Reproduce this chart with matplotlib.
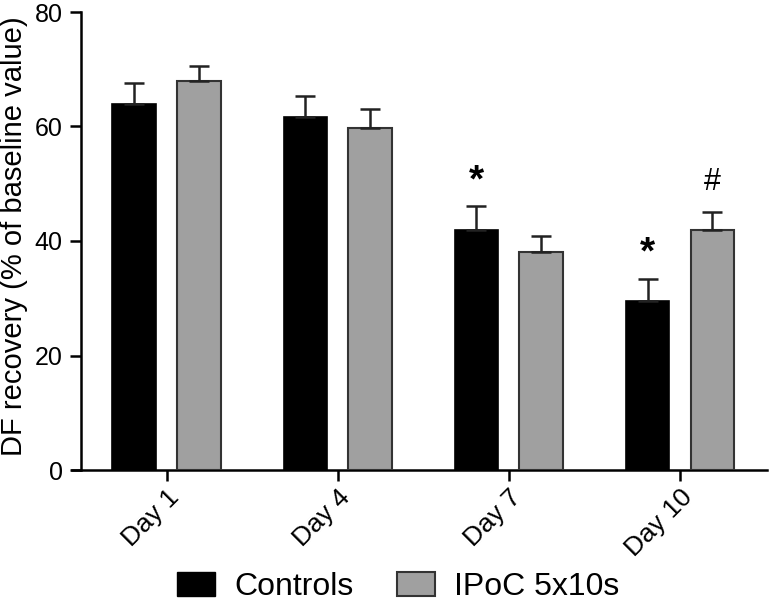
import numpy as np
import matplotlib
matplotlib.use('Agg')
import matplotlib.pyplot as plt
from matplotlib.patches import Patch

plt.rcParams['font.family'] = ['Liberation Sans', 'DejaVu Sans']

days = ['Day 1', 'Day 4', 'Day 7', 'Day 10']
controls = [63.9, 61.6, 42.0, 29.6]
controls_err = [3.7, 3.7, 4.1, 3.8]
ipoc = [68.0, 59.8, 38.0, 42.0]
ipoc_err = [2.5, 3.2, 2.9, 3.0]
yticks = [0, 20, 40, 60, 80]
# significance marks: (group index, series, symbol)
marks = [(2, 'controls', '*'), (3, 'controls', '*'), (3, 'ipoc', '#')]

fig = plt.figure(figsize=(7.7, 6.04), dpi=100)
ax = fig.add_axes([71.7 / 770, 134 / 604, 695 / 770, 458 / 604])

x = np.arange(len(days))
w = 0.257
off = 0.19
err_kw = dict(ecolor='#222222', elinewidth=1.8, capsize=7.5, capthick=1.8)

ax.bar(x - off, controls, w, color='black', edgecolor='black', lw=1.2,
       yerr=[np.zeros(4), controls_err], error_kw=err_kw, label='Controls', zorder=3)
ax.bar(x + off, ipoc, w, color='#a0a0a0', edgecolor='#333333', lw=1.5,
       yerr=[np.zeros(4), ipoc_err], error_kw=err_kw, label='IPoC 5x10s', zorder=3)

for gi, series, sym in marks:
    if series == 'controls':
        xx, top = x[gi] - off, controls[gi] + controls_err[gi]
    else:
        xx, top = x[gi] + off, ipoc[gi] + ipoc_err[gi]
    if sym == '*':
        ax.text(xx, top + 1.2, sym, ha='center', va='bottom', fontsize=28, fontweight='bold')
    else:
        ax.text(xx, top + 2.6, sym, ha='center', va='bottom', fontsize=22)

# spine position first: moving it resets the tick labels
ax.spines['top'].set_visible(False)
ax.spines['right'].set_visible(False)
ax.spines['left'].set_position(('data', -0.505))
for s in ('left', 'bottom'):
    ax.spines[s].set_linewidth(1.8)

ax.set_xlim(-0.557, 3.507)
ax.set_ylim(0, 80)
ax.set_yticks(yticks, [str(v) for v in yticks], fontsize=18)
ax.set_xticks(x, days, rotation=45, ha='right', rotation_mode='anchor', fontsize=19)
ax.tick_params(axis='both', length=8, width=1.8, color='black')
ax.tick_params(axis='x', pad=3)
ax.tick_params(axis='y', pad=5)

ax.set_ylabel('DF recovery (% of baseline value)', fontsize=21)
ax.yaxis.set_label_coords(-0.063, 0.51)

handles = [Patch(facecolor='black', edgecolor='black', label='Controls'),
           Patch(facecolor='#a0a0a0', edgecolor='#333333', lw=1.5, label='IPoC 5x10s')]
fig.legend(handles=handles, loc='center', bbox_to_anchor=(0.517, 0.028), ncol=2,
           frameon=False, fontsize=23, handlelength=1.19, handleheight=0.75,
           handletextpad=0.6, columnspacing=1.35, borderaxespad=0, borderpad=0)

fig.savefig('out.png', dpi=100)
